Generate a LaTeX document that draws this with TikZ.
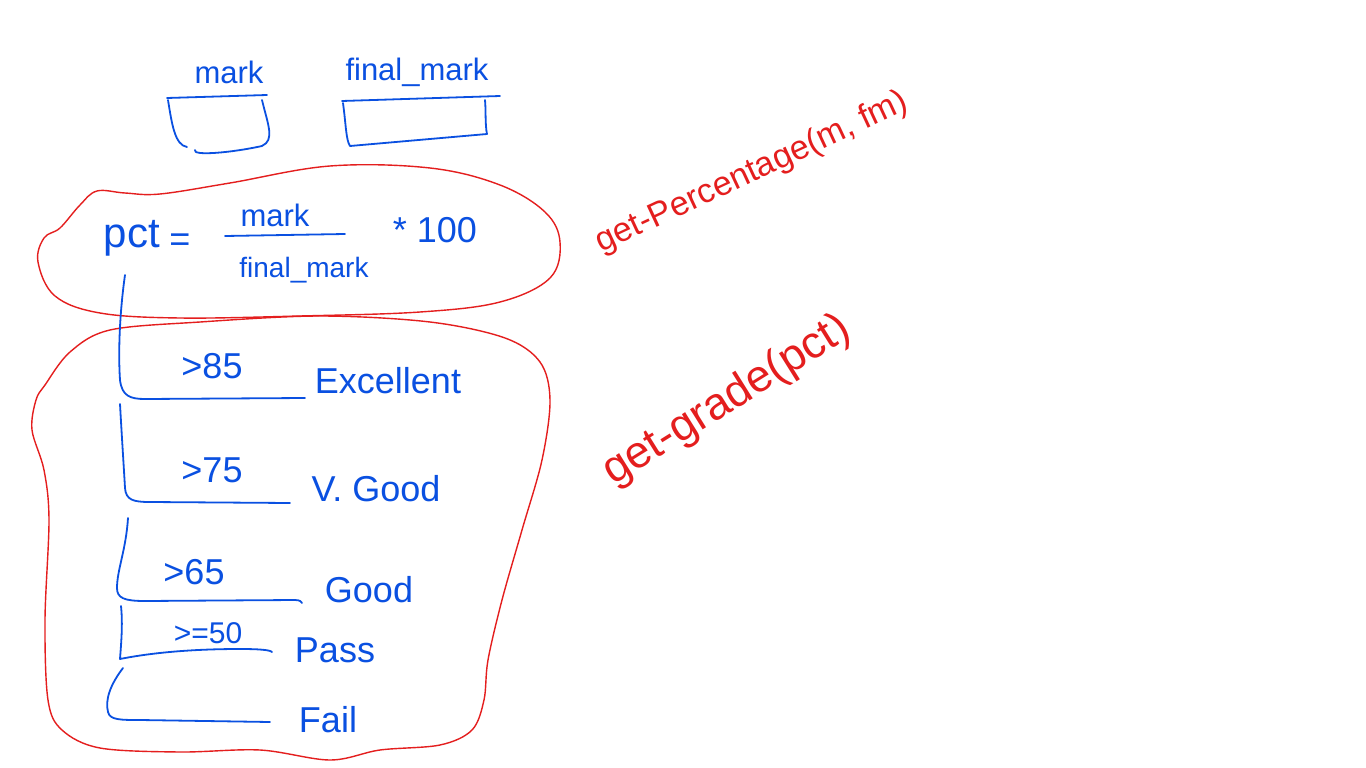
\documentclass[tikz,border=0pt]{standalone}
\usepackage{fontspec}
\setmainfont{Liberation Sans}
\begin{document}
\begin{tikzpicture}[x=1pt,y=-1pt,
  pen/.style={draw=inkblue,line width=1.8pt,line cap=round,line join=round},
  redpen/.style={draw=inkred,line width=1.4pt,line cap=round,line join=round},
  btxt/.style={text=inkblue,inner sep=0pt,font=\fontsize{31}{35}\selectfont},
  bigtxt/.style={text=inkblue,inner sep=0pt,font=\fontsize{36}{40}\selectfont},
  rtxt/.style={text=inkred,inner sep=0pt}]
\definecolor{inkblue}{RGB}{10,80,225}
\definecolor{inkred}{RGB}{228,30,30}
\useasboundingbox[fill=white] (0,0) rectangle (1366,768);

% variable boxes
\node[btxt] (mark) at (229,72) {mark};
\node[btxt] (fmark) at (417,72) {final\_mark};
\draw[pen] (167,98) -- (267,95);
\draw[pen] (168,100) .. controls (172,125) and (175,145) .. (187,147);
\draw[pen] (195,150) .. controls (192,156) and (230,153) .. (262,146) .. controls (275,140) and (268,125) .. (262,100);
\draw[pen] (342,101) -- (500,96);
\draw[pen] (343,103) .. controls (346,125) and (346,140) .. (350,146) -- (487,134) .. controls (485,125) and (486,110) .. (485,100);

% percentage blob
\draw[redpen] plot[smooth cycle,tension=0.6] coordinates {(60,228) (80,205) (97,191) (125,193) (160,194) (230,183) (330,166) (430,168) (500,185) (545,212) (560,242) (550,278) (500,302) (420,312) (300,316) (180,318) (100,313) (55,296) (38,262) (44,238)};

\node[bigtxt,font=\fontsize{42}{46}\selectfont] (pct) at (132,238) {pct};
\node[bigtxt] (eq) at (180,243) {=};
\node[btxt] (num) at (275,215) {mark};
\draw[pen] (225,236) -- (345,234);
\node[btxt,font=\fontsize{28}{32}\selectfont] (den) at (304,270) {final\_mark};
\node[bigtxt] (times) at (435,230) {* 100};

% grade blob
\draw[redpen] plot[smooth cycle,tension=0.55] coordinates {(45,385) (70,352) (110,330) (200,322) (320,316) (430,322) (505,338) (540,362) (550,400) (542,460) (522,530) (502,600) (488,660) (484,700) (472,730) (440,745) (380,750) (330,760) (260,750) (180,752) (100,748) (62,730) (48,700) (45,620) (49,520) (44,470) (32,430) (36,400)};

% branches
\coordinate (s1) at (125,275);
\draw[pen] (s1) .. controls (120,310) and (118,350) .. (120,380) .. controls (122,396) and (130,399) .. (145,399) -- (305,398);
\node[bigtxt] (c1) at (212,366) {>85};
\node[bigtxt] (g1) at (388,381) {Excellent};

\draw[pen] (120,404) .. controls (122,440) and (124,470) .. (125,488) .. controls (126,500) and (133,502) .. (150,502) -- (290,503);
\node[bigtxt] (c2) at (212,470) {>75};
\node[bigtxt] (g2) at (376,489) {V. Good};

\draw[pen] (128,518) .. controls (126,550) and (117,570) .. (117,588) .. controls (117,598) and (124,601) .. (145,601) -- (295,600) .. controls (300,600) and (302,602) .. (302,603);
\node[bigtxt] (c3) at (194,572) {>65};
\node[bigtxt] (g3) at (369,590) {Good};

\draw[pen] (121,606) .. controls (123,625) and (121,645) .. (120,659) .. controls (150,653) and (190,649) .. (240,649) .. controls (260,649) and (270,650) .. (272,652);
\node[btxt,font=\fontsize{30}{34}\selectfont] (c4) at (208,633) {>=50};
\node[bigtxt] (g4) at (335,650) {Pass};

\draw[pen] (123,668) .. controls (110,685) and (105,700) .. (108,712) .. controls (110,720) and (120,720) .. (140,720) -- (270,722);
\node[bigtxt] (g5) at (328,720) {Fail};

% function names
\node[rtxt,font=\fontsize{34}{38}\selectfont,rotate=25] (f1) at (752,173) {get-Percentage(m, fm)};
\node[rtxt,font=\fontsize{45}{50}\selectfont,rotate=32] (f2) at (727,401) {get-grade(pct)};
\end{tikzpicture}
\end{document}
